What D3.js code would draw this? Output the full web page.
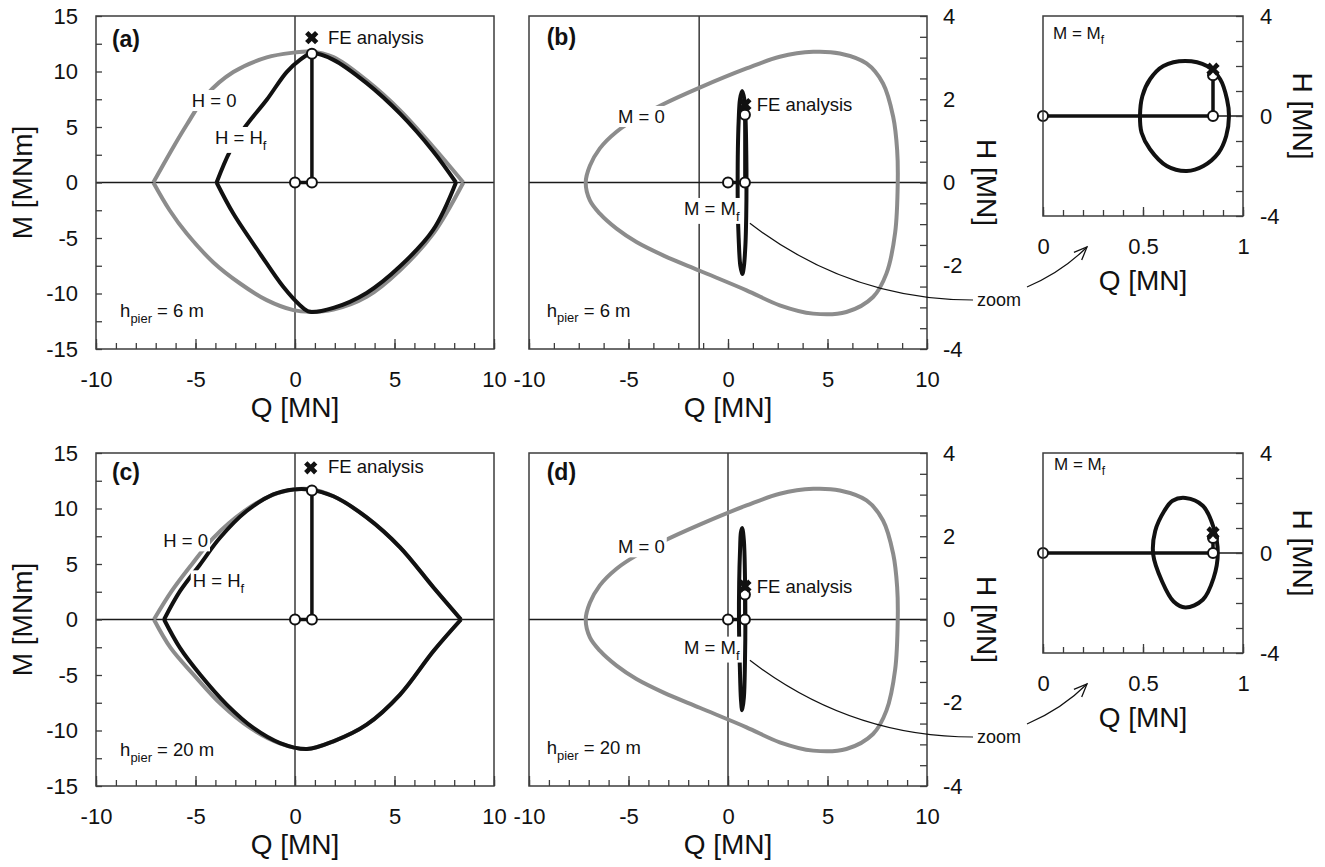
<!DOCTYPE html>
<html>
<head>
<meta charset="utf-8">
<script src="https://cdn.jsdelivr.net/npm/d3@7"></script>
<style>
  body { margin: 0; background: #fff; }
  svg { display: block; font-family: "Liberation Sans", Arial, sans-serif; }
</style>
</head>
<body>
<svg id="chart" width="1325" height="867"></svg>
<script>
// ---- data ----
// Q-M plane, h_pier = 6 m
const h6_H0_upper = [[-7.12,0],[-6.11,3.2],[-5.44,5.2],[-4.44,7.9],[-3.1,9.95],[-1.42,11.27],[-0.08,11.7],[0.75,11.8],[1.93,11.3],[3.6,9.2],[5.28,6.5],[6.95,3.2],[8.46,0]];
const h6_H0_lower = [[-7.12,0],[-6.3,-2.5],[-5.44,-4.6],[-4.1,-7.2],[-2.76,-9.1],[-1.42,-10.6],[-0.08,-11.5],[0.75,-11.65],[1.93,-11.45],[3.6,-10.3],[5.28,-7.9],[6.95,-4.6],[8.46,0]];
const h6_Hf_upper = [[-3.94,0],[-3.27,2.8],[-2.51,5.0],[-1.42,7.45],[-0.42,9.95],[0.25,11.05],[0.84,11.65],[1.93,11.05],[3.6,8.95],[5.28,6.2],[6.95,2.8],[8.09,0]];
const h6_Hf_lower = [[-3.94,0],[-3.1,-2.8],[-1.76,-6.4],[-0.59,-9.4],[0.25,-11.05],[0.75,-11.65],[1.93,-11.3],[3.6,-9.95],[5.28,-7.55],[6.95,-4.25],[8.09,0]];
// Q-M plane, h_pier = 20 m
const h20_H0_upper = [[-7.09,0],[-6.2,2.55],[-5.19,4.96],[-4.1,7.36],[-2.6,9.7],[-1.15,11.2],[-0.08,11.7],[0.7,11.75],[1.93,11.1],[3.6,9.2],[5.28,6.5],[6.95,2.9],[8.34,0]];
const h20_H0_lower = [[-7.09,0],[-6.25,-2.56],[-5.1,-4.96],[-3.7,-7.67],[-2.25,-9.77],[-0.8,-11.13],[0.6,-11.67],[1.93,-10.97],[3.6,-9.47],[5.28,-6.76],[6.95,-2.86],[8.34,0]];
const h20_Hf_upper = [[-6.58,0],[-5.78,2.55],[-4.77,4.96],[-3.77,7.36],[-2.43,9.77],[-1.09,11.27],[-0.08,11.72],[0.7,11.72],[1.93,11.1],[3.6,9.2],[5.28,6.5],[6.95,2.9],[8.34,0]];
const h20_Hf_lower = [[-6.58,0],[-5.78,-2.56],[-4.77,-4.96],[-3.43,-7.67],[-2.09,-9.77],[-0.75,-11.13],[0.6,-11.67],[1.93,-10.97],[3.6,-9.47],[5.28,-6.76],[6.95,-2.86],[8.34,0]];
// Q-H plane, M = 0 (same in both cases)
const qh_M0 = [[-7.15,0],[-6.94,0.4],[-6.44,0.82],[-5.6,1.22],[-4.6,1.54],[-3.26,1.88],[-1.42,2.28],[0.93,2.74],[2.6,3.02],[4.28,3.14],[5.62,3.1],[6.96,2.86],[7.79,2.38],[8.3,1.58],[8.5,0.78],[8.53,0],[8.4,-1.2],[7.96,-2.19],[7.29,-2.75],[5.95,-3.11],[4.28,-3.15],[2.6,-2.95],[0.93,-2.59],[-1.42,-2.12],[-3.26,-1.75],[-4.6,-1.43],[-5.6,-1.11],[-6.44,-0.75],[-6.94,-0.43]];
// Q-H plane, M = M_f
const h6_Mf = [[0.711,2.2],[0.82,2.0],[0.886,1.47],[0.92,0.67],[0.93,0],[0.916,-0.8],[0.878,-1.47],[0.802,-2.0],[0.719,-2.2],[0.619,-2.0],[0.535,-1.33],[0.493,-0.67],[0.485,0],[0.497,0.8],[0.535,1.47],[0.602,2.0]];
const h20_Mf = [[0.712,2.2],[0.799,1.89],[0.853,1.02],[0.874,0],[0.853,-1.0],[0.799,-1.87],[0.712,-2.18],[0.653,-1.94],[0.595,-1.13],[0.551,-0.06],[0.561,0.88],[0.607,1.69],[0.648,2.09]];
// load paths (Q, M) and (Q, H)
const h6_pathQM = [[0,0],[0.85,0],[0.85,11.6]];
const h6_pathQH = [[0,0],[0.85,0],[0.85,1.63]];
const h20_pathQM = [[0,0],[0.85,0],[0.85,11.63]];
const h20_pathQH = [[0,0],[0.85,0],[0.85,0.6]];
// FE analysis results (Q, H)
const h6_FE = [0.85, 1.87];
const h20_FE = [0.85, 0.8];

// axes
const qTicks = [-10, -5, 0, 5, 10];
const mTicks = [-15, -10, -5, 0, 5, 10, 15];
const hTicks = [-4, -2, 0, 2, 4];
const zqTicks = [0, 0.5, 1];
const zhTicks = [-4, 0, 4];

// ---- drawing ----
const svg = d3.select('#chart');
const GRAY = '#8c8c8c', INK = '#111', FRAME = '#3d3d3d';
const TICK_FONT = 22, TITLE_FONT = 28, NOTE_FONT = 18.5;

const defs = svg.append('defs');
defs.append('marker')
    .attr('id', 'chev')
    .attr('viewBox', '-14 -7 16 14')
    .attr('refX', 0).attr('refY', 0)
    .attr('markerWidth', 16).attr('markerHeight', 14)
    .attr('markerUnits', 'userSpaceOnUse')
    .attr('orient', 'auto')
    .append('path')
    .attr('d', 'M-13,-5.5L0,0L-13,5.5')
    .attr('fill', 'none').attr('stroke', INK).attr('stroke-width', 1.3);

function makePanel(box, xDomain, yDomain) {
    const x = d3.scaleLinear().domain(xDomain).range([box.x0, box.x1]);
    const y = d3.scaleLinear().domain(yDomain).range([box.y1, box.y0]);
    const g = svg.append('g');
    const line = d3.line().x(d => x(d[0])).y(d => y(d[1]));
    return { x, y, g, box, line };
}

function curve(p, data, color, closed) {
    p.g.append('path')
        .attr('d', p.line.curve(closed ? d3.curveCatmullRomClosed.alpha(0.5) : d3.curveCatmullRom.alpha(0.5))(data))
        .attr('fill', 'none')
        .attr('stroke', color)
        .attr('stroke-width', 4)
        .attr('stroke-linejoin', 'round');
}

function refLines(p, q, v) {
    const g = p.g.append('g').attr('stroke', '#1a1a1a').attr('stroke-width', 1.3);
    if (q !== null) g.append('line').attr('x1', p.x(q)).attr('x2', p.x(q)).attr('y1', p.box.y0).attr('y2', p.box.y1);
    g.append('line').attr('x1', p.box.x0).attr('x2', p.box.x1).attr('y1', p.y(v)).attr('y2', p.y(v));
}

function loadPath(p, data) {
    p.g.append('path')
        .attr('d', p.line.curve(d3.curveLinear)(data))
        .attr('fill', 'none').attr('stroke', INK).attr('stroke-width', 3.5);
}

function dots(p, data) {
    p.g.selectAll(null).data(data).enter().append('circle')
        .attr('cx', d => p.x(d[0])).attr('cy', d => p.y(d[1])).attr('r', 5)
        .attr('fill', '#fff').attr('stroke', INK).attr('stroke-width', 2);
}

function feMark(p, d) {
    p.g.append('path')
        .attr('d', d3.symbol().type(d3.symbolCross).size(110)())
        .attr('transform', `translate(${p.x(d[0])},${p.y(d[1])}) rotate(45)`)
        .attr('fill', INK);
}

// text made of parts [string, isSubscript]
function richText(g, px, py, parts, size, opts = {}) {
    const t = g.append('text').attr('x', px).attr('y', py)
        .attr('font-size', size).attr('fill', INK)
        .attr('font-weight', opts.bold ? 'bold' : null);
    let down = false;
    parts.forEach(([s, sub]) => {
        const ts = t.append('tspan').text(s);
        if (sub && !down) { ts.attr('dy', size * 0.32).attr('font-size', size * 0.7); down = true; }
        else if (!sub && down) { ts.attr('dy', -size * 0.32); down = false; }
    });
    if (opts.bg) {
        const b = t.node().getBBox();
        g.insert('rect', () => t.node())
            .attr('x', b.x - 2).attr('y', b.y).attr('width', b.width + 4).attr('height', b.height)
            .attr('fill', '#fff');
    }
    return t;
}

function label(p, q, v, parts, size, opts) {
    return richText(p.g, p.x(q), p.y(v), parts, size, opts);
}

function styleAxis(sel) {
    sel.attr('font-family', null).attr('font-size', TICK_FONT);
    sel.select('.domain').remove();
    sel.selectAll('.tick line').attr('stroke', FRAME).attr('stroke-width', 1.3);
    sel.selectAll('.tick text').attr('fill', INK);
}

function bottomAxis(p, minor, major, minorLen, majorLen) {
    p.g.append('g').attr('transform', `translate(0,${p.box.y1})`)
        .call(d3.axisBottom(p.x).tickValues(minor).tickSize(-minorLen).tickFormat(''))
        .call(styleAxis);
    p.g.append('g').attr('transform', `translate(0,${p.box.y1})`)
        .call(d3.axisBottom(p.x).tickValues(major).tickSize(-majorLen).tickPadding(22).tickFormat(d => String(d)))
        .call(styleAxis);
}

function sideAxis(p, side, minor, major, len, pad) {
    const axis = side === 'left' ? d3.axisLeft : d3.axisRight;
    const xPos = side === 'left' ? p.box.x0 : p.box.x1;
    p.g.append('g').attr('transform', `translate(${xPos},0)`)
        .call(axis(p.y).tickValues(minor).tickSize(-len).tickFormat(''))
        .call(styleAxis);
    p.g.append('g').attr('transform', `translate(${xPos},0)`)
        .call(axis(p.y).tickValues(major).tickSize(0).tickPadding(pad).tickFormat(d => String(d)))
        .call(styleAxis);
}

function frame(p) {
    p.g.append('rect')
        .attr('x', p.box.x0).attr('y', p.box.y0)
        .attr('width', p.box.x1 - p.box.x0).attr('height', p.box.y1 - p.box.y0)
        .attr('fill', 'none').attr('stroke', FRAME).attr('stroke-width', 1.5);
}

function axisTitle(x, y, text, rot) {
    svg.append('text').attr('transform', `translate(${x},${y}) rotate(${rot})`)
        .attr('text-anchor', 'middle').attr('font-size', TITLE_FONT).attr('fill', INK).text(text);
}

const rows = [
    { dy: 0,   tag: ['(a)', '(b)'], hpier: '6 m',  H0: [h6_H0_upper, h6_H0_lower], Hf: [h6_Hf_upper, h6_Hf_lower],
      Mf: h6_Mf, pathQM: h6_pathQM, pathQH: h6_pathQH, fe: h6_FE, refQ: -1.45, qMinorStep: 1.25,
      lab: { tagA: [-9.2, 12.2], feLegend: [0.84, 13.05], feText: [1.66, 12.45], h0: [-5.19, 6.8], hf: [-4.02, 3.47], hp: [-8.79, -12.1],
             m0: [-5.53, 1.43], mf: [-2.21, -0.78], fe: [1.44, 1.72], hpB: [-9.11, -3.22], tagB: [-9.11, 3.3], mfZ: [0.05, 3.08] } },
    { dy: 437, tag: ['(c)', '(d)'], hpier: '20 m', H0: [h20_H0_upper, h20_H0_lower], Hf: [h20_Hf_upper, h20_Hf_lower],
      Mf: h20_Mf, pathQM: h20_pathQM, pathQH: h20_pathQH, fe: h20_FE, refQ: 0, qMinorStep: 1,
      lab: { tagA: [-9.2, 12.56], feLegend: [0.79, 13.67], feText: [1.66, 13.19], h0: [-6.62, 6.5], hf: [-5.14, 2.9], hp: [-8.79, -12.3],
             m0: [-5.53, 1.59], mf: [-2.21, -0.82], fe: [1.44, 0.63], hpB: [-9.11, -3.23], tagB: [-9.11, 3.35], mfZ: [0.055, 3.33] } }
];

rows.forEach(r => {
    const L = r.lab;
    // ---- Q-M panel ----
    const pa = makePanel({ x0: 96, x1: 494, y0: 16 + r.dy, y1: 349 + r.dy }, [-10, 10], [-15, 15]);
    refLines(pa, 0, 0);
    curve(pa, r.H0[0], GRAY); curve(pa, r.H0[1], GRAY);
    curve(pa, r.Hf[0], INK); curve(pa, r.Hf[1], INK);
    loadPath(pa, r.pathQM);
    label(pa, L.h0[0], L.h0[1], [['H = 0']], NOTE_FONT, { bg: true });
    label(pa, L.hf[0], L.hf[1], [['H = H'], ['f', true]], NOTE_FONT, { bg: true });
    label(pa, L.tagA[0], L.tagA[1], [[r.tag[0]]], 23, { bold: true });
    label(pa, L.hp[0], L.hp[1], [['h'], ['pier', true], [' = ' + r.hpier]], NOTE_FONT);
    feMark(pa, L.feLegend);
    label(pa, L.feText[0], L.feText[1], [['FE analysis']], NOTE_FONT);
    dots(pa, r.pathQM);
    bottomAxis(pa, d3.range(-10, 10.01, 1), qTicks, 6, 10);
    sideAxis(pa, 'left', d3.range(-15, 15.01, 2.5), mTicks, 6, 18);
    frame(pa);
    axisTitle(295, 417 + r.dy, 'Q [MN]', 0);
    axisTitle(32, 182.5 + r.dy, 'M [MNm]', -90);

    // ---- Q-H panel ----
    const pb = makePanel({ x0: 529, x1: 927, y0: 16 + r.dy, y1: 349 + r.dy }, [-10, 10], [-4, 4]);
    refLines(pb, r.refQ, 0);
    curve(pb, qh_M0, GRAY, true);
    curve(pb, r.Mf, INK, true);
    loadPath(pb, r.pathQH);
    label(pb, L.m0[0], L.m0[1], [['M = 0']], NOTE_FONT, { bg: true });
    label(pb, L.mf[0], L.mf[1], [['M = M'], ['f', true]], NOTE_FONT, { bg: true });
    label(pb, L.tagB[0], L.tagB[1], [[r.tag[1]]], 23, { bold: true });
    label(pb, L.hpB[0], L.hpB[1], [['h'], ['pier', true], [' = ' + r.hpier]], NOTE_FONT);
    dots(pb, r.pathQH);
    feMark(pb, r.fe);
    label(pb, L.fe[0], L.fe[1], [['FE analysis']], NOTE_FONT);
    bottomAxis(pb, d3.range(-10, 10.01, r.qMinorStep), qTicks, 6, 10);
    sideAxis(pb, 'right', d3.range(-4, 4.01, 0.5), hTicks, 7, 16);
    frame(pb);
    axisTitle(728, 417 + r.dy, 'Q [MN]', 0);
    axisTitle(977, 182.5 + r.dy, 'H [MN]', 90);

    // ---- zoomed Q-H panel ----
    const pz = makePanel({ x0: 1043, x1: 1243, y0: 16 + r.dy, y1: 216 + r.dy }, [0, 1], [-4, 4]);
    refLines(pz, null, 0);
    curve(pz, r.Mf, INK, true);
    loadPath(pz, r.pathQH);
    richText(pz.g, pz.x(L.mfZ[0]), pz.y(L.mfZ[1]), [['M = M'], ['f', true]], 17);
    dots(pz, r.pathQH);
    feMark(pz, r.fe);
    bottomAxis(pz, d3.range(0, 1.001, 0.1), zqTicks, 6, 9);
    sideAxis(pz, 'right', d3.range(-4, 4.01, 1), zhTicks, 7, 17);
    frame(pz);
    axisTitle(1143, 290 + r.dy, 'Q [MN]', 0);
    axisTitle(1293, 116 + r.dy, 'H [MN]', 90);

    // ---- "zoom" pointer ----
    const p0 = [pb.x(1.1), pb.y(-0.98)];
    const lead = d3.path();
    lead.moveTo(p0[0], p0[1]);
    lead.quadraticCurveTo(850, 300 + r.dy, 973, 300 + r.dy);
    svg.append('path').attr('d', lead.toString()).attr('fill', 'none').attr('stroke', INK).attr('stroke-width', 1.2);
    svg.append('text').attr('x', 977).attr('y', 306 + r.dy).attr('font-size', 18).attr('fill', INK).text('zoom');
    const arr = d3.path();
    arr.moveTo(1027, 287 + r.dy);
    arr.quadraticCurveTo(1062, 272 + r.dy, 1087, 247 + r.dy);
    svg.append('path').attr('d', arr.toString()).attr('fill', 'none').attr('stroke', INK)
        .attr('stroke-width', 1.2).attr('marker-end', 'url(#chev)');
});
</script>
</body>
</html>
